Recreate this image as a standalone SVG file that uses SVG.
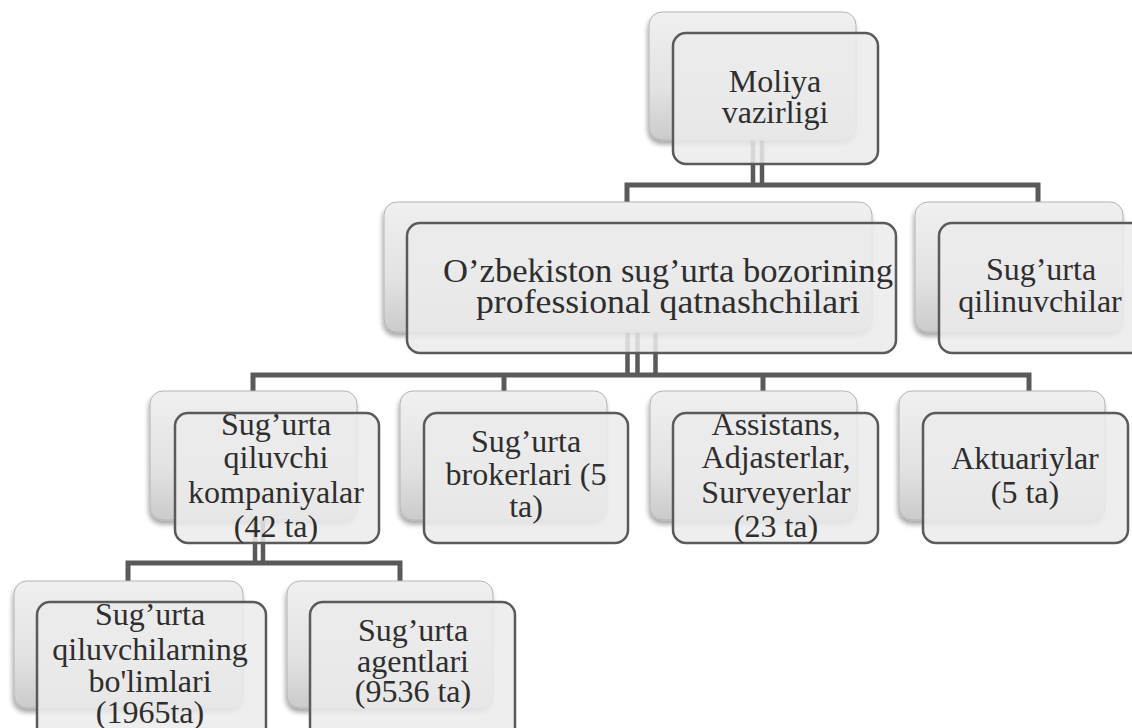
<svg xmlns="http://www.w3.org/2000/svg" width="1132" height="728" viewBox="0 0 1132 728">
<style>
.back{fill:url(#gBack);stroke:#b4b4b4;stroke-width:1;filter:url(#sh)}
.front{fill:#ebebeb;fill-opacity:0.86;stroke:#5a5a5a;stroke-width:2.5}
.t{font-family:'Liberation Serif','Tinos','Times New Roman','DejaVu Serif',serif;font-size:32px;fill:#2e2e2e;text-anchor:middle}
.c{fill:none;stroke:#5a5a5a;stroke-width:5}
.cv{fill:none;stroke:#5a5a5a;stroke-width:4.5}
</style>
<defs>
<linearGradient id="gBack" x1="0" y1="0" x2="0" y2="1">
<stop offset="0" stop-color="#f0f0f0"/>
<stop offset="0.6" stop-color="#e2e2e2"/>
<stop offset="1" stop-color="#cbcbcb"/>
</linearGradient>
<filter id="sh" x="-10%" y="-10%" width="120%" height="130%">
<feGaussianBlur in="SourceAlpha" stdDeviation="2.5"/>
<feOffset dx="-1" dy="4" result="b"/>
<feComponentTransfer><feFuncA type="linear" slope="0.35"/></feComponentTransfer>
<feMerge><feMergeNode/><feMergeNode in="SourceGraphic"/></feMerge>
</filter>
</defs>
<rect width="1132" height="728" fill="#ffffff"/>
<g id="connectors">
<path class="cv" d="M753,140V185 M762,140V185"/>
<path class="c" d="M627,203V185H1038V203"/>
<path class="cv" d="M627.5,332V375 M637.5,332V375 M655.5,332V375"/>
<path class="c" d="M253,392V375H1029V392 M504,375V392 M763,375V392"/>
<path class="cv" d="M255,520V563 M263,520V563"/>
<path class="c" d="M128,582V563H400V582"/>
</g>
<g id="n-moliya">
<rect class="back" x="649" y="12" width="207" height="128" rx="13"/>
<rect class="front" x="673" y="33" width="205" height="131" rx="13"/>
<text class="t" x="775" y="92">Moliya</text>
<text class="t" x="775" y="123">vazirligi</text>
</g>
<g id="n-ishtirokchilar">
<rect class="back" x="384" y="202" width="488" height="130" rx="13"/>
<rect class="front" x="407" y="223" width="489" height="130" rx="13"/>
<text class="t" x="668" y="282" style="font-size:34.5px" textLength="450" lengthAdjust="spacingAndGlyphs">O’zbekiston sug’urta bozorining</text>
<text class="t" x="668" y="313" style="font-size:34.5px" textLength="384" lengthAdjust="spacingAndGlyphs">professional qatnashchilari</text>
</g>
<g id="n-qilinuvchilar">
<rect class="back" x="915" y="202" width="208" height="130" rx="13"/>
<rect class="front" x="939" y="223" width="210" height="130" rx="13"/>
<text class="t" x="1041" y="280">Sug’urta</text>
<text class="t" x="1040" y="312">qilinuvchilar</text>
</g>
<g id="n-kompaniyalar">
<rect class="back" x="150" y="391" width="207" height="129" rx="13"/>
<rect class="front" x="175" y="413" width="204" height="130" rx="13"/>
<text class="t" x="276" y="435">Sug’urta</text>
<text class="t" x="276" y="468">qiluvchi</text>
<text class="t" x="276" y="503">kompaniyalar</text>
<text class="t" x="276" y="537">(42 ta)</text>
</g>
<g id="n-brokerlar">
<rect class="back" x="400" y="391" width="207" height="129" rx="13"/>
<rect class="front" x="424" y="413" width="204" height="130" rx="13"/>
<text class="t" x="526" y="452">Sug’urta</text>
<text class="t" x="526" y="485">brokerlari (5</text>
<text class="t" x="526" y="517">ta)</text>
</g>
<g id="n-assistans">
<rect class="back" x="650" y="391" width="207" height="129" rx="13"/>
<rect class="front" x="673" y="413" width="205" height="130" rx="13"/>
<text class="t" x="776" y="435">Assistans,</text>
<text class="t" x="776" y="468">Adjasterlar,</text>
<text class="t" x="776" y="503">Surveyerlar</text>
<text class="t" x="776" y="537">(23 ta)</text>
</g>
<g id="n-aktuariylar">
<rect class="back" x="899" y="391" width="206" height="129" rx="13"/>
<rect class="front" x="923" y="413" width="205" height="130" rx="13"/>
<text class="t" x="1025" y="469">Aktuariylar</text>
<text class="t" x="1025" y="503">(5 ta)</text>
</g>
<g id="n-bolimlar">
<rect class="back" x="14" y="581" width="229" height="127" rx="13"/>
<rect class="front" x="37" y="602" width="229" height="140" rx="13"/>
<text class="t" x="150" y="625">Sug’urta</text>
<text class="t" x="150" y="660">qiluvchilarning</text>
<text class="t" x="150" y="692">bo'limlari</text>
<text class="t" x="150" y="723">(1965ta)</text>
</g>
<g id="n-agentlar">
<rect class="back" x="287" y="581" width="206" height="127" rx="13"/>
<rect class="front" x="310" y="602" width="205" height="140" rx="13"/>
<text class="t" x="413" y="641">Sug’urta</text>
<text class="t" x="413" y="672">agentlari</text>
<text class="t" x="413" y="702">(9536 ta)</text>
</g>
</svg>
